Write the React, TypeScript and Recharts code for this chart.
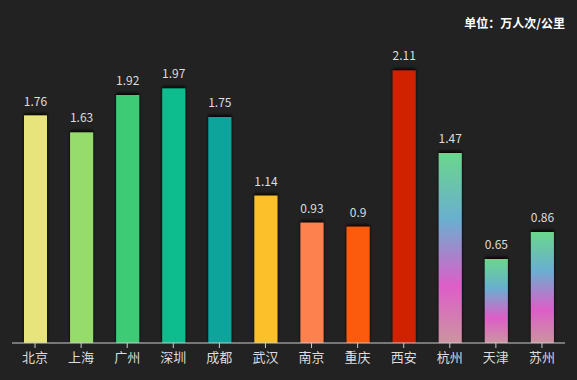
import React from "react";
import { BarChart, Bar, XAxis, YAxis, Cell, LabelList } from "recharts";

const cities = ["北京", "上海", "广州", "深圳", "成都", "武汉", "南京", "重庆", "西安", "杭州", "天津", "苏州"];
const values = [1.76, 1.63, 1.92, 1.97, 1.75, 1.14, 0.93, 0.9, 2.11, 1.47, 0.65, 0.86];
const colors = [
  "#e8e47c", "#96dc6c", "#3ccb76", "#0dbd8d", "#0aa49c", "#fcc12c",
  "#fd8050", "#fc5a10", "#d02204", "url(#grad)", "url(#grad)", "url(#grad)",
];
const unitLabel = "单位：万人次/公里";

const data = cities.map((c, i) => ({ name: c, value: values[i] }));

export default function App() {
  return (
    <div style={{ position: "fixed", left: 0, top: 0, width: 577, height: 380, background: "#222222", fontFamily: "'Noto Sans CJK SC', 'Noto Sans', sans-serif" }}>
      <div style={{ position: "absolute", right: 12, top: 14, color: "#ffffff", fontSize: 12, fontWeight: "bold" }}>
        {unitLabel}
      </div>
      <BarChart width={577} height={380} data={data} margin={{ top: 20, right: 12, bottom: 7, left: 12 }}>
        <defs>
          <linearGradient id="grad" x1="0" y1="0" x2="0" y2="1">
            <stop offset="0%" stopColor="#6ad68c" />
            <stop offset="35%" stopColor="#6aafd0" />
            <stop offset="70%" stopColor="#dd5ec8" />
            <stop offset="100%" stopColor="#cc94a0" />
          </linearGradient>
          <filter id="shadow" x="-30%" y="-10%" width="160%" height="120%">
            <feDropShadow dx="0" dy="-2" stdDeviation="1.5" floodColor="#000" floodOpacity="0.9" />
          </filter>
        </defs>
        <XAxis
          dataKey="name"
          interval={0}
          axisLine={{ stroke: "#cccccc" }}
          tickLine={{ stroke: "#cccccc" }}
          tickSize={5}
          tickMargin={5}
          tick={{ fill: "#dddddd", fontSize: 13 }}
        />
        <YAxis hide domain={[0, 2.5]} />
        <Bar dataKey="value" barSize={23} isAnimationActive={false} filter="url(#shadow)">
          {data.map((d, i) => (
            <Cell key={d.name} fill={colors[i]} />
          ))}
          <LabelList dataKey="value" position="top" offset={10} fill="#dddddd" fontSize={12} />
        </Bar>
      </BarChart>
    </div>
  );
}
